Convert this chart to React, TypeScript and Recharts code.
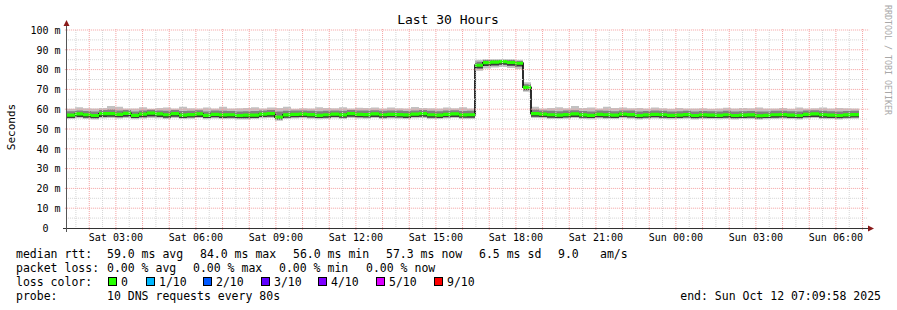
import React from 'react';
import { ComposedChart, Area, XAxis, YAxis, ReferenceLine } from 'recharts';

// Sat 01:09:58 is the left edge of the 30-hour window (hours since Sat 00:00)
const START_HOUR = 1 + 9 / 60 + 58 / 3600;
const BIN_HOURS = 0.3;

const tickHours = [3, 6, 9, 12, 15, 18, 21, 24, 27, 30];
const tickLabels = ['Sat 03:00', 'Sat 06:00', 'Sat 09:00', 'Sat 12:00', 'Sat 15:00', 'Sat 18:00', 'Sat 21:00', 'Sun 00:00', 'Sun 03:00', 'Sun 06:00'];
const yTicks = [0, 10, 20, 30, 40, 50, 60, 70, 80, 90, 100];
const majorGridHours = [2, 3, 4, 5, 6, 7, 8, 9, 10, 11, 12, 13, 14, 15, 16, 17, 18, 19, 20, 21, 22, 23, 24, 25, 26, 27, 28, 29, 30, 31];
const minorGridHours = [1.5, 2.5, 3.5, 4.5, 5.5, 6.5, 7.5, 8.5, 9.5, 10.5, 11.5, 12.5, 13.5, 14.5, 15.5, 16.5, 17.5, 18.5, 19.5, 20.5, 21.5, 22.5, 23.5, 24.5, 25.5, 26.5, 27.5, 28.5, 29.5, 30.5];
const majorGridMs = [10, 20, 30, 40, 50, 60, 70, 80, 90, 100];
const minorGridMs = [5, 15, 25, 35, 45, 55, 65, 75, 85, 95];

// median rtt per 18-minute bin (ms)
const medianRtt = [
  57.0, 57.6, 57.2, 56.8, 57.8, 57.8, 57.4, 57.9, 56.9, 57.5,
  58.0, 57.6, 57.2, 57.8, 57.0, 57.3, 57.6, 56.9, 57.4, 57.1,
  57.2, 56.8, 57.0, 57.0, 57.5, 57.8, 56.0, 57.1, 57.4, 57.5,
  57.3, 56.9, 57.2, 57.5, 57.1, 57.8, 57.4, 57.3, 57.6, 57.2,
  57.4, 57.3, 57.1, 57.5, 57.8, 57.2, 57.0, 57.4, 57.6, 57.1,
  57.2, 82.2, 83.5, 83.8, 84.0, 83.6, 83.2, 71.0,
  57.8, 57.5, 57.2, 57.0, 57.3, 57.6, 57.1, 56.9, 57.4, 57.2,
  57.0, 57.5, 57.3, 56.8, 57.1, 57.4, 57.2, 56.9, 57.0, 57.3,
  56.8, 57.1, 57.0, 56.9, 57.2, 56.8, 57.0, 57.1, 56.7, 56.9,
  57.2, 57.3, 57.0, 56.8, 57.4, 57.6, 57.2, 57.0, 56.8, 57.1,
  57.3,
];

const smokeMax = [
  60.2, 61.0, 60.5, 60.4, 60.6, 61.6, 61.2, 60.3, 60.4, 61.0,
  60.2, 60.6, 60.8, 60.4, 61.3, 60.5, 60.4, 60.9, 60.4, 61.2,
  60.4, 60.5, 60.6, 61.0, 60.4, 60.8, 60.6, 61.2, 60.2, 60.5,
  60.4, 61.0, 60.6, 60.5, 61.0, 60.4, 60.7, 60.6, 60.8, 60.4,
  60.9, 60.5, 60.4, 61.1, 60.6, 60.5, 60.3, 60.8, 60.5, 61.0,
  60.4, 85.0, 85.4, 85.3, 85.2, 85.4, 85.0, 73.6,
  61.2, 60.4, 60.6, 61.0, 60.5, 61.6, 60.6, 60.8, 60.4, 61.2,
  60.6, 60.9, 60.5, 60.6, 60.4, 60.8, 60.5, 60.2, 60.6, 60.3,
  60.4, 60.5, 60.2, 60.4, 60.7, 60.3, 60.6, 60.5, 60.8, 60.3,
  60.4, 60.6, 60.2, 60.9, 60.3, 60.5, 60.8, 60.4, 60.6, 60.5,
  60.4,
];

const smokeHigh = [
  59.0, 59.3, 59.1, 58.8, 59.6, 59.8, 59.4, 59.6, 58.9, 59.3,
  59.7, 59.4, 59.2, 59.6, 59.1, 59.2, 59.5, 58.9, 59.3, 59.2,
  59.1, 58.9, 59.0, 59.1, 59.4, 59.6, 58.8, 59.2, 59.3, 59.4,
  59.2, 59.0, 59.2, 59.4, 59.2, 59.6, 59.3, 59.3, 59.5, 59.2,
  59.3, 59.3, 59.1, 59.4, 59.6, 59.2, 59.0, 59.3, 59.5, 59.1,
  59.2, 84.0, 84.8, 84.9, 85.0, 84.8, 84.4, 72.6,
  59.8, 59.4, 59.2, 59.0, 59.3, 59.5, 59.1, 58.9, 59.3, 59.2,
  59.0, 59.4, 59.3, 58.9, 59.1, 59.3, 59.2, 58.9, 59.0, 59.2,
  58.9, 59.1, 59.0, 58.9, 59.2, 58.9, 59.0, 59.1, 58.8, 58.9,
  59.2, 59.2, 59.0, 58.9, 59.3, 59.5, 59.2, 59.0, 58.9, 59.1,
  59.2,
];

const smokeLow = [
  55.6, 56.0, 55.7, 55.4, 56.1, 56.2, 55.9, 56.2, 55.5, 55.9,
  56.3, 56.1, 55.7, 56.2, 55.6, 55.8, 56.1, 55.5, 55.9, 55.6,
  55.7, 55.4, 55.4, 55.6, 56.0, 56.2, 54.8, 55.7, 55.9, 56.0,
  55.8, 55.5, 55.7, 56.0, 55.7, 56.2, 55.9, 55.8, 56.1, 55.7,
  55.9, 55.8, 55.6, 56.0, 56.2, 55.7, 55.6, 55.9, 56.1, 55.7,
  55.7, 80.6, 81.8, 82.1, 82.4, 82.0, 81.6, 69.6,
  56.2, 56.0, 55.7, 55.6, 55.8, 56.1, 55.7, 55.5, 55.9, 55.7,
  55.6, 56.0, 55.8, 55.4, 55.7, 55.9, 55.7, 55.5, 55.6, 55.8,
  55.4, 55.7, 55.6, 55.5, 55.7, 55.4, 55.6, 55.7, 55.3, 55.5,
  55.7, 55.8, 55.6, 55.4, 55.9, 56.1, 55.7, 55.6, 55.4, 55.7,
  55.8,
];

const smokeMin = [
  55.0, 55.4, 55.1, 54.8, 55.4, 55.6, 55.3, 55.6, 54.9, 55.3,
  55.6, 55.4, 55.1, 55.5, 55.0, 55.2, 55.5, 54.9, 55.3, 55.0,
  55.1, 54.8, 54.8, 55.0, 55.4, 55.6, 54.2, 55.1, 55.3, 55.4,
  55.2, 54.9, 55.1, 55.4, 55.1, 55.6, 55.3, 55.2, 55.5, 55.1,
  55.3, 55.2, 55.0, 55.4, 55.6, 55.1, 55.0, 55.3, 55.5, 55.1,
  55.1, 79.4, 80.6, 81.0, 81.3, 80.8, 80.3, 68.8,
  55.6, 55.4, 55.1, 55.0, 55.2, 55.5, 55.1, 54.9, 55.3, 55.1,
  55.0, 55.4, 55.2, 54.8, 55.1, 55.3, 55.1, 54.9, 55.0, 55.2,
  54.8, 55.1, 55.0, 54.9, 55.1, 54.8, 55.0, 55.1, 54.7, 54.9,
  55.1, 55.2, 55.0, 54.8, 55.3, 55.5, 55.1, 55.0, 54.8, 55.1,
  55.2,
];

const lossLegend = [
  { label: '0', color: '#26ff00' },
  { label: '1/10', color: '#00b8ff' },
  { label: '2/10', color: '#0059ff' },
  { label: '3/10', color: '#5e00ff' },
  { label: '4/10', color: '#7e00ff' },
  { label: '5/10', color: '#dd00ff' },
  { label: '9/10', color: '#ff0000' },
];
const lossBoxX = [108, 146, 203, 261, 318, 376, 434];

const MEDIAN_HALF = 0.8; // half-thickness of the loss-coloured median band (ms)

const rows = medianRtt.map((m, i) => ({
  t: i * BIN_HOURS,
  outer: [smokeMin[i], smokeMax[i]],
  upper: [m, smokeHigh[i]],
  lower: [smokeLow[i], m],
  medLine: [m, m],
  green: [m - MEDIAN_HALF, m + MEDIAN_HALF],
}));
const last = rows[rows.length - 1];
const data = [...rows, { ...last, t: medianRtt.length * BIN_HOURS }];

const MONO = '"DejaVu Sans Mono", monospace';
const MAJOR = '#f4a0a0';
const MINOR = '#d4d4d4';

const YTick = (props: any) => {
  const { y, payload } = props;
  const v = payload.value;
  return (
    <text x={v === 0 ? 48.5 : 60.5} y={y + 3.8} textAnchor="end" fontFamily={MONO} fontSize={10} fill="#000">
      {v === 0 ? '0' : `${v} m`}
    </text>
  );
};

const XTick = (props: any) => {
  const { x, payload } = props;
  const idx = tickHours.findIndex((h) => Math.abs(h - START_HOUR - payload.value) < 1e-6);
  return (
    <text x={x} y={241} textAnchor="middle" fontFamily={MONO} fontSize={10} fill="#000">
      {tickLabels[idx]}
    </text>
  );
};

export default function App() {
  const legendFont = { fontFamily: MONO, fontSize: 11.5, fill: '#000' } as const;
  return (
    <div style={{ position: 'absolute', left: 0, top: 0, width: 897, height: 310, background: '#fff' }}>
      <ComposedChart width={897} height={310} data={data} margin={{ top: 30, right: 30, bottom: 52, left: 0 }}>
        <XAxis
          dataKey="t"
          type="number"
          domain={[0, 30]}
          allowDataOverflow
          ticks={tickHours.map((h) => h - START_HOUR)}
          tick={<XTick />}
          axisLine={false}
          tickLine={false}
          height={30}
          interval={0}
        />
        <YAxis
          type="number"
          domain={[0, 100]}
          allowDataOverflow
          ticks={yTicks}
          tick={<YTick />}
          axisLine={false}
          tickLine={false}
          width={67}
          interval={0}
        />
        <Area dataKey="outer" type="stepAfter" stroke="none" fill="#c2c2c2" fillOpacity={1} isAnimationActive={false} activeDot={false} />
        <Area dataKey="upper" type="stepAfter" stroke="none" fill="#808080" fillOpacity={1} isAnimationActive={false} activeDot={false} />
        <Area dataKey="lower" type="stepAfter" stroke="none" fill="#3c3c3c" fillOpacity={1} isAnimationActive={false} activeDot={false} />
        <Area dataKey="medLine" type="stepAfter" stroke="#111" strokeWidth={1.3} fill="none" isAnimationActive={false} activeDot={false} />
        <Area dataKey="green" type="stepAfter" stroke="none" fill="#26ff00" fillOpacity={1} isAnimationActive={false} activeDot={false} />
        {minorGridHours.map((h) => (
          <ReferenceLine key={`mx${h}`} ifOverflow="visible" stroke={MINOR} strokeDasharray="1 1"
            segment={[{ x: h - START_HOUR, y: -0.5 }, { x: h - START_HOUR, y: 100.5 }]} />
        ))}
        {minorGridMs.map((v) => (
          <ReferenceLine key={`my${v}`} ifOverflow="visible" stroke={MINOR} strokeDasharray="1 1"
            segment={[{ x: -0.04, y: v }, { x: 30.04, y: v }]} />
        ))}
        {majorGridHours.map((h) => (
          <ReferenceLine key={`Mx${h}`} ifOverflow="visible" stroke={MAJOR} strokeDasharray="1 1"
            segment={[{ x: h - START_HOUR, y: -1 }, { x: h - START_HOUR, y: 101 }]} />
        ))}
        {majorGridMs.map((v) => (
          <ReferenceLine key={`My${v}`} ifOverflow="visible" stroke={MAJOR} strokeDasharray="1 1"
            segment={[{ x: -0.08, y: v }, { x: 30.08, y: v }]} />
        ))}
      </ComposedChart>
      <svg width={897} height={310} style={{ position: 'absolute', left: 0, top: 0, pointerEvents: 'none' }}>
        <line x1={63} y1={228.5} x2={870} y2={228.5} stroke="#333" strokeWidth={1} />
        <line x1={66.5} y1={232} x2={66.5} y2={25} stroke="#555" strokeWidth={1} />
        <polygon points="63.5,26 69.5,26 66.5,20" fill="#8a1a1a" />
        <polygon points="868,225.5 868,231.5 874,228.5" fill="#8a1a1a" />
        <text x={448} y={24} textAnchor="middle" fontFamily={MONO} fontSize={13} fill="#000">Last 30 Hours</text>
        <text transform="translate(15,127) rotate(-90)" textAnchor="middle" fontFamily={MONO} fontSize={11} fill="#000">Seconds</text>
        <text transform="translate(885,5) rotate(90)" fontFamily={MONO} fontSize={8.3} fill="#a8a8a8">RRDTOOL / TOBI OETIKER</text>

        <text x={16} y={258} {...legendFont}>median rtt:</text>
        <text x={107} y={258} {...legendFont}>59.0 ms avg</text>
        <text x={200} y={258} {...legendFont}>84.0 ms max</text>
        <text x={293} y={258} {...legendFont}>56.0 ms min</text>
        <text x={386} y={258} {...legendFont}>57.3 ms now</text>
        <text x={479} y={258} {...legendFont}>6.5 ms sd</text>
        <text x={558} y={258} {...legendFont}>9.0</text>
        <text x={600} y={258} {...legendFont}>am/s</text>

        <text x={16} y={272} {...legendFont}>packet loss:</text>
        <text x={107} y={272} {...legendFont}>0.00 % avg</text>
        <text x={193} y={272} {...legendFont}>0.00 % max</text>
        <text x={279} y={272} {...legendFont}>0.00 % min</text>
        <text x={366} y={272} {...legendFont}>0.00 % now</text>

        <text x={16} y={286} {...legendFont}>loss color:</text>
        {lossLegend.map((l, i) => (
          <g key={l.label}>
            <rect x={lossBoxX[i] + 0.5} y={277.5} width={8} height={8} fill={l.color} stroke="#000" strokeWidth={1} />
            <text x={lossBoxX[i] + 13} y={286} {...legendFont}>{l.label}</text>
          </g>
        ))}

        <text x={16} y={300} {...legendFont}>probe:</text>
        <text x={107} y={300} {...legendFont}>10 DNS requests every 80s</text>
        <text x={881} y={300} textAnchor="end" {...legendFont}>end: Sun Oct 12 07:09:58 2025</text>
      </svg>
    </div>
  );
}
